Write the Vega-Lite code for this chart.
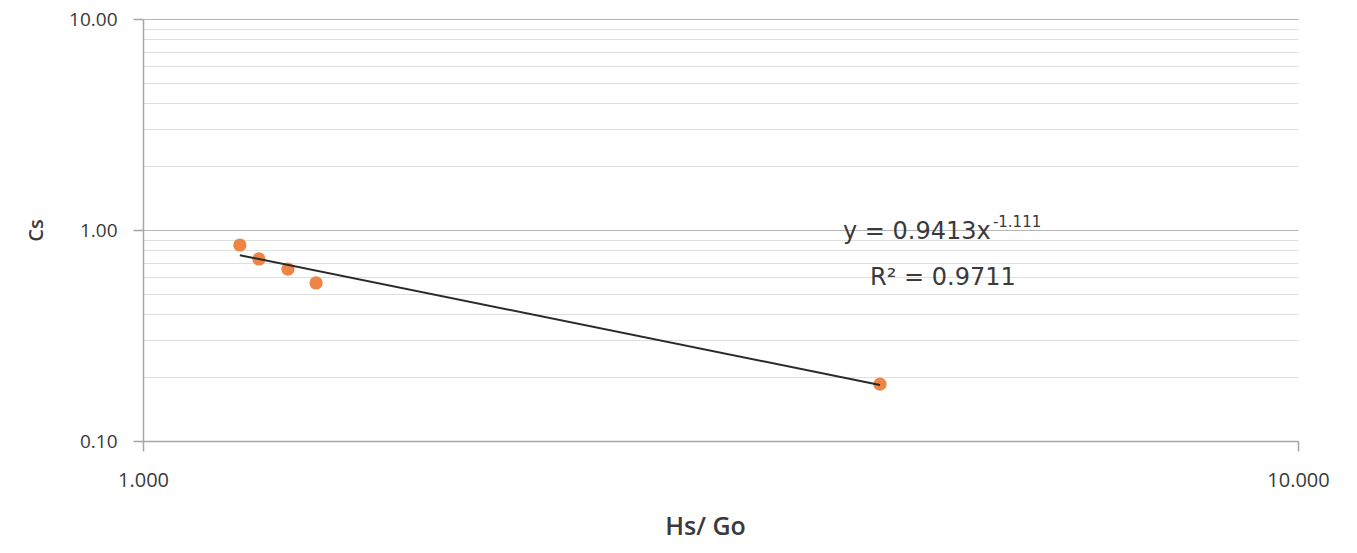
{
  "$schema": "https://vega.github.io/schema/vega-lite/v6.json",
  "width": 1155,
  "height": 422,
  "autosize": {"type": "none"},
  "padding": {"left": 143, "top": 19, "right": 59, "bottom": 112},
  "background": "#ffffff",
  "config": {
    "view": {"stroke": null},
    "font": "Open Sans"
  },
  "datasets": {
    "points": [
      {"hs_go": 1.213, "cs": 0.849},
      {"hs_go": 1.26, "cs": 0.729},
      {"hs_go": 1.335, "cs": 0.653},
      {"hs_go": 1.412, "cs": 0.561},
      {"hs_go": 4.346, "cs": 0.186}
    ],
    "trend": [
      {"hs_go": 1.213, "cs": 0.7596},
      {"hs_go": 4.346, "cs": 0.1843}
    ],
    "one": [{}]
  },
  "layer": [
    {
      "data": {"name": "points"},
      "mark": {"type": "point", "filled": true, "shape": "circle", "size": 175, "color": "#EC8546", "opacity": 1},
      "encoding": {
        "x": {
          "field": "hs_go",
          "type": "quantitative",
          "scale": {"type": "log", "domain": [1, 10], "nice": false},
          "axis": {
            "title": "Hs/ Go",
            "titleFont": "Open Sans",
            "titleFontSize": 25,
            "titleFontWeight": 600,
            "titleColor": "#3a3a3a",
            "titleX": 562,
            "titleY": 85,
            "titleAlign": "center",
            "titleBaseline": "middle",
            "values": [1, 10],
            "format": ".3f",
            "grid": false,
            "domainColor": "#a6a6a6",
            "domainWidth": 1.5,
            "tickColor": "#a6a6a6",
            "tickWidth": 1.5,
            "tickSize": 10,
            "labelPadding": 19,
            "labelFont": "Open Sans",
            "labelFontSize": 20,
            "labelColor": "#3a3a3a",
            "labelFlush": false,
            "labelOverlap": false
          }
        },
        "y": {
          "field": "cs",
          "type": "quantitative",
          "scale": {"type": "log", "domain": [0.1, 10], "nice": false},
          "axis": {
            "title": "Cs",
            "titleFont": "Open Sans",
            "titleFontSize": 20,
            "titleFontWeight": 600,
            "titleColor": "#3a3a3a",
            "titleAngle": -90,
            "titleX": -107,
            "titleY": 211,
            "titleAlign": "center",
            "titleBaseline": "middle",
            "values": [0.1, 0.2, 0.3, 0.4, 0.5, 0.6, 0.7, 0.8, 0.9, 1, 2, 3, 4, 5, 6, 7, 8, 9, 10],
            "labelExpr": "indexof([0.1, 1, 10], datum.value) >= 0 ? format(datum.value, '.2f') : ''",
            "grid": true,
            "gridColor": {
              "condition": {"test": "indexof([0.1, 1, 10], datum.value) >= 0", "value": "#b5b5b5"},
              "value": "#dedede"
            },
            "gridWidth": 1.2,
            "domainColor": "#a6a6a6",
            "domainWidth": 1.5,
            "tickColor": "#a6a6a6",
            "tickWidth": 1.5,
            "tickSize": 10,
            "tickOpacity": {
              "condition": {"test": "indexof([0.1, 1, 10], datum.value) >= 0", "value": 1},
              "value": 0
            },
            "labelPadding": 16,
            "labelFont": "Open Sans",
            "labelFontSize": 19,
            "labelColor": "#3a3a3a",
            "labelOverlap": false
          }
        }
      }
    },
    {
      "data": {"name": "trend"},
      "mark": {"type": "line", "color": "#2a2a2a", "strokeWidth": 2},
      "encoding": {
        "x": {"field": "hs_go", "type": "quantitative"},
        "y": {"field": "cs", "type": "quantitative"}
      }
    },
    {
      "data": {"name": "one"},
      "mark": {"type": "text", "text": "y = 0.9413x", "align": "left", "baseline": "middle", "font": "DejaVu Sans", "fontSize": 24, "color": "#3a3a3a"},
      "encoding": {
        "x": {"datum": 4.037, "type": "quantitative"},
        "y": {"datum": 0.978, "type": "quantitative"}
      }
    },
    {
      "data": {"name": "one"},
      "mark": {"type": "text", "text": "-1.111", "align": "left", "baseline": "middle", "font": "DejaVu Sans", "fontSize": 15, "color": "#3a3a3a"},
      "encoding": {
        "x": {"datum": 5.443, "type": "quantitative"},
        "y": {"datum": 1.091, "type": "quantitative"}
      }
    },
    {
      "data": {"name": "one"},
      "mark": {"type": "text", "text": "R² = 0.9711", "align": "left", "baseline": "middle", "font": "DejaVu Sans", "fontSize": 24, "color": "#3a3a3a"},
      "encoding": {
        "x": {"datum": 4.261, "type": "quantitative"},
        "y": {"datum": 0.592, "type": "quantitative"}
      }
    }
  ]
}
